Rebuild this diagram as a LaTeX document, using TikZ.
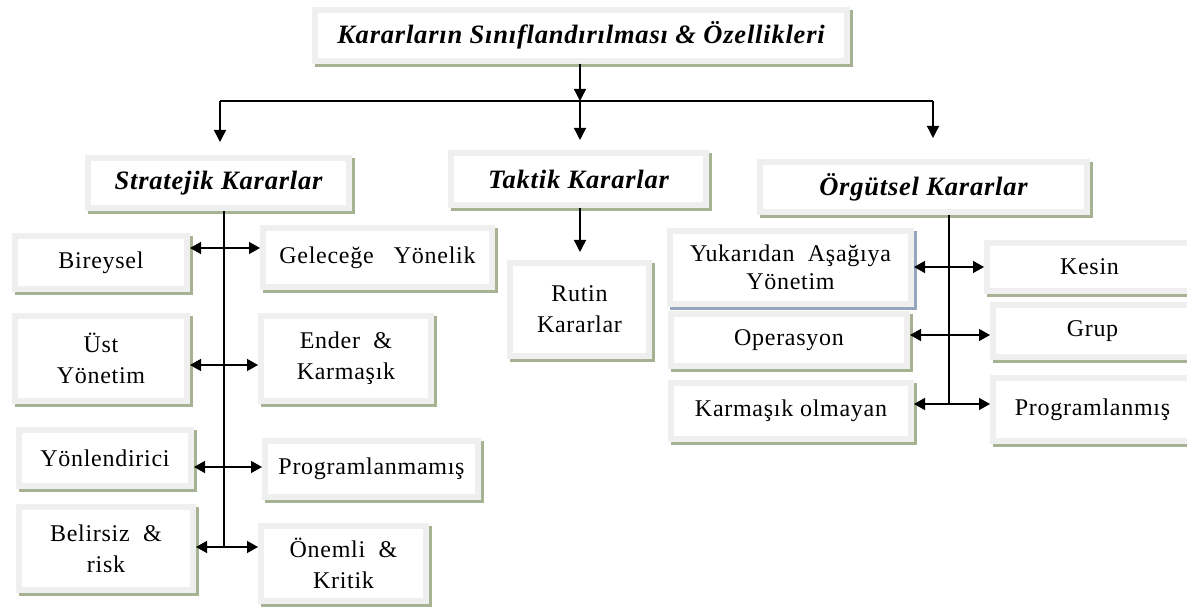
\documentclass[tikz,border=0pt]{standalone}
\usepackage{fontspec}
\setmainfont{Liberation Serif}[LetterSpace=3]
\usetikzlibrary{arrows.meta,shadows,calc}

\definecolor{framegray}{RGB}{239,239,239}
\definecolor{shadegreen}{RGB}{166,178,146}
\definecolor{shadeblue}{RGB}{150,164,190}

\newcommand{\bodytext}{\fontsize{24}{31}\selectfont}
\newcommand{\headtext}{\fontsize{26.5}{30}\selectfont\bfseries\itshape}

\tikzset{
  box/.style={fill=framegray, draw=none, inner sep=0pt, outer sep=0pt,
    align=center, font=\bodytext,
    path picture={\fill[white]
      ([shift={(6pt,-6pt)}]path picture bounding box.north west) rectangle
      ([shift={(-6pt,6pt)}]path picture bounding box.south east);},
    drop shadow={shadow xshift=3pt, shadow yshift=-3pt, fill=shadegreen, opacity=1}},
  bluebox/.style={box,
    drop shadow={shadow xshift=3pt, shadow yshift=-3pt, fill=shadeblue, opacity=1}},
  headbox/.style={box, font=\headtext},
  ln/.style={line width=1.4pt, black},
  arr/.style={ln, -{Triangle[length=12pt,width=12pt]}},
  dbl/.style={ln, {Triangle[length=11pt,width=12pt]}-{Triangle[length=11pt,width=12pt]}}
}

\begin{document}
\begin{tikzpicture}[x=1pt, y=-1pt]
\clip (0,0) rectangle (1187,609);
\fill[white] (0,0) rectangle (1187,609);

% headings
\node[headbox, minimum width=538pt, minimum height=57pt] (title) at (581,35.5)
  {Kararların Sınıflandırılması \& Özellikleri};
\node[headbox, minimum width=267pt, minimum height=56pt] (strat) at (218.5,183) {Stratejik Kararlar};
\node[headbox, minimum width=261pt, minimum height=58pt] (tak) at (578.5,179) {Taktik Kararlar};
\node[headbox, minimum width=333pt, minimum height=56pt] (org) at (923.5,187) {Örgütsel Kararlar};

% strategic decisions, left column
\node[box, minimum width=178pt, minimum height=59pt] (bir) at (101,262.5) {Bireysel};
\node[box, minimum width=178pt, minimum height=91pt] (ust) at (101,358.5) {Üst\\Yönetim};
\node[box, minimum width=178pt, minimum height=62pt] (yon) at (105,458) {Yönlendirici};
\node[box, minimum width=180pt, minimum height=89pt] (bel) at (106,548.5) {Belirsiz~~\&\\risk};
% strategic decisions, right column
\node[box, minimum width=235pt, minimum height=65pt] (gel) at (377.5,257.5) {Geleceğe~~~Yönelik};
\node[box, minimum width=176pt, minimum height=91pt] (end) at (346,358.5) {Ender~~\&\\Karmaşık};
\node[box, minimum width=219pt, minimum height=62pt] (prm) at (371.5,469) {Programlanmamış};
\node[box, minimum width=171pt, minimum height=81pt] (onm) at (343.5,563.5) {Önemli~~\&\\Kritik};

% tactical decisions
\node[box, minimum width=145pt, minimum height=99pt] (rut) at (579.5,309.5) {Rutin\\Kararlar};

% organisational decisions
\node[box, minimum width=242pt, minimum height=58pt] (ops) at (789,340.5) {Operasyon};
\node[bluebox, minimum width=247pt, minimum height=79pt, font=\fontsize{24}{28}\selectfont] (yuk) at (790.5,267.5)
  {Yukarıdan~~Aşağıya\\Yönetim};
\node[box, minimum width=246pt, minimum height=62pt] (kar) at (791,411) {Karmaşık~olmayan};
\node[box, minimum width=211pt, minimum height=54pt] (kes) at (1089.5,267) {Kesin};
\node[box, minimum width=205pt, minimum height=58pt] (grp) at (1092.5,331) {Grup};
\node[box, minimum width=205pt, minimum height=69pt] (pgd) at (1092.5,409.5) {Programlanmış};

% top distribution bar
\coordinate (hL) at (220,101);
\coordinate (hC) at (580,101);
\coordinate (hR) at (933,101);
\draw[ln] (hL) -- (hR);
\draw[arr] (title.south -| hC) -- (hC);
\draw[arr, shorten >=13pt] (hL) -- (hL |- strat.north);
\draw[arr, shorten >=10pt] (hC) -- (hC |- tak.north);
\draw[arr, shorten >=21pt] (hR) -- (hR |- org.north);

% strategic spine
\coordinate (s1) at (224,248);
\coordinate (s2) at (224,365);
\coordinate (s3) at (224,467);
\coordinate (s4) at (224,547);
\draw[ln] (strat.south -| s1) -- (s4);
\draw[dbl] (bir.east |- s1) -- (gel.west |- s1);
\draw[dbl] (ust.east |- s2) -- (end.west |- s2);
\draw[dbl] (yon.east |- s3) -- (prm.west |- s3);
\draw[dbl] (bel.east |- s4) -- (onm.west |- s4);

% tactical link
\draw[arr, shorten >=8pt] (tak.south -| hC) -- (hC |- rut.north);

% organisational spine
\coordinate (o1) at (949,267);
\coordinate (o2) at (949,335);
\coordinate (o3) at (949,404);
\draw[ln] (org.south -| o1) -- (o3);
\draw[dbl] (yuk.east |- o1) -- (kes.west |- o1);
\draw[dbl] (ops.east |- o2) -- (grp.west |- o2);
\draw[dbl] (kar.east |- o3) -- (pgd.west |- o3);
\end{tikzpicture}
\end{document}
